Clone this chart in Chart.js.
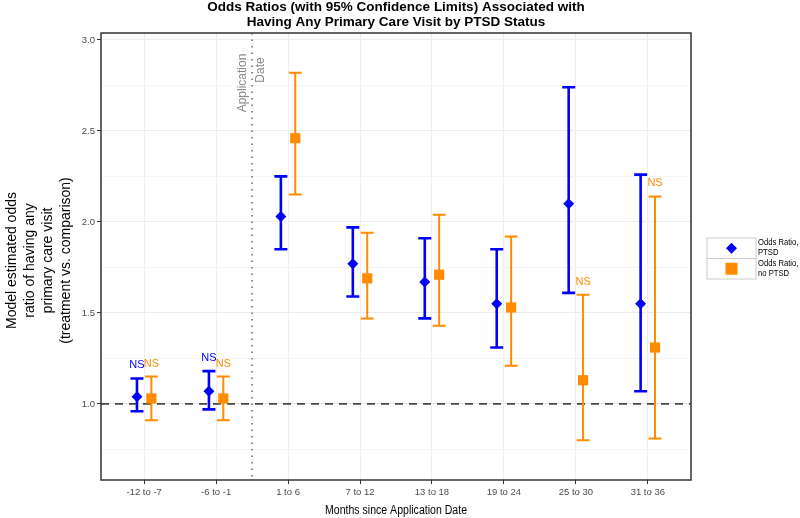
<!DOCTYPE html>
<html>
<head>
<meta charset="utf-8">
<script src="https://cdn.jsdelivr.net/npm/chart.js@4.4.0/dist/chart.umd.min.js"></script>
<style>
  html, body { margin: 0; padding: 0; background: #fff; }
  #wrap { width: 800px; height: 518px; }
</style>
</head>
<body>
<div id="wrap"><canvas id="chart" width="800" height="518"></canvas></div>
<script>
// data
const periods = ['-12 to -7', '-6 to -1', '1 to 6', '7 to 12', '13 to 18', '19 to 24', '25 to 30', '31 to 36'];
const ptsdOR     = [1.04, 1.07, 2.03, 1.77, 1.67, 1.55, 2.10, 1.55];
const ptsdLow    = [0.96, 0.97, 1.85, 1.59, 1.47, 1.31, 1.61, 1.07];
const ptsdHigh   = [1.14, 1.18, 2.25, 1.97, 1.91, 1.85, 2.74, 2.26];
const noPtsdOR   = [1.03, 1.03, 2.46, 1.69, 1.71, 1.53, 1.13, 1.31];
const noPtsdLow  = [0.91, 0.91, 2.15, 1.47, 1.43, 1.21, 0.80, 0.81];
const noPtsdHigh = [1.15, 1.15, 2.82, 1.94, 2.04, 1.92, 1.60, 2.14];
const ptsdNote   = ['NS', 'NS', '', '', '', '', '', ''];
const noPtsdNote = ['NS', 'NS', '', '', '', '', 'NS', 'NS'];
const yTickLabels = ['1.0', '1.5', '2.0', '2.5', '3.0'];
const refLine = 1.0;          // OR = 1
const applicationAt = 1.5;    // between "-6 to -1" and "1 to 6"

const BLUE = '#0000ff';
const ORANGE = '#ff8c00';
const SANS = "'Liberation Sans', Arial, sans-serif";
const DODGE = 0.1;

const series = [
  { label: 'Odds Ratio, PTSD', or: ptsdOR, lo: ptsdLow, hi: ptsdHigh, note: ptsdNote, color: BLUE, off: -DODGE, lw: 2.6 },
  { label: 'Odds Ratio, no PTSD', or: noPtsdOR, lo: noPtsdLow, hi: noPtsdHigh, note: noPtsdNote, color: ORANGE, off: DODGE, lw: 2 }
];

// condensed-looking text: no narrow font installed, so squeeze horizontally
function narrowText(ctx, text, x, y, sx) {
  ctx.save();
  ctx.translate(x, y);
  ctx.scale(sx, 1);
  ctx.fillText(text, 0, 0);
  ctx.restore();
}

const isHalf = v => Math.abs(v * 2 - Math.round(v * 2)) < 1e-6;

const extras = {
  id: 'extras',
  beforeDatasetsDraw(chart) {
    const { ctx, chartArea: a, scales: { x, y } } = chart;
    ctx.save();
    ctx.beginPath();
    ctx.rect(a.left, a.top, a.right - a.left, a.bottom - a.top);
    ctx.clip();
    // reference line at 1
    ctx.strokeStyle = '#444';
    ctx.lineWidth = 1.6;
    ctx.setLineDash([8, 6]);
    ctx.beginPath();
    ctx.moveTo(a.left, y.getPixelForValue(refLine));
    ctx.lineTo(a.right, y.getPixelForValue(refLine));
    ctx.stroke();
    // application date
    ctx.strokeStyle = '#888';
    ctx.lineWidth = 2;
    ctx.setLineDash([1.5, 5]);
    const ax = x.getPixelForValue(applicationAt);
    ctx.beginPath();
    ctx.moveTo(ax, a.top);
    ctx.lineTo(ax, a.bottom);
    ctx.stroke();
    ctx.setLineDash([]);
    // error bars
    series.forEach(s => {
      ctx.strokeStyle = s.color;
      ctx.lineWidth = s.lw;
      s.or.forEach((v, i) => {
        const px = x.getPixelForValue(i + s.off);
        const top = y.getPixelForValue(s.hi[i]);
        const bot = y.getPixelForValue(s.lo[i]);
        ctx.beginPath();
        ctx.moveTo(px, top); ctx.lineTo(px, bot);
        ctx.moveTo(px - 6.5, top); ctx.lineTo(px + 6.5, top);
        ctx.moveTo(px - 6.5, bot); ctx.lineTo(px + 6.5, bot);
        ctx.stroke();
      });
    });
    ctx.restore();
  },
  afterDraw(chart) {
    const { ctx, chartArea: a, scales: { x, y } } = chart;
    ctx.save();
    // panel border
    ctx.strokeStyle = '#333';
    ctx.lineWidth = 1.5;
    ctx.strokeRect(a.left, a.top, a.right - a.left, a.bottom - a.top);

    // NS notes
    ctx.font = '11px ' + SANS;
    ctx.textAlign = 'center';
    ctx.textBaseline = 'middle';
    series.forEach(s => {
      ctx.fillStyle = s.color;
      s.note.forEach((t, i) => {
        if (!t) return;
        ctx.fillText(t, x.getPixelForValue(i + s.off), y.getPixelForValue(s.hi[i]) - 13);
      });
    });

    // application date label
    const ax = x.getPixelForValue(applicationAt);
    ctx.fillStyle = '#888';
    ctx.font = '12px ' + SANS;
    ctx.save();
    ctx.translate(ax - 9, a.top + 50);
    ctx.rotate(-Math.PI / 2);
    ctx.fillText('Application', 0, 0);
    ctx.restore();
    ctx.save();
    ctx.translate(ax + 9, a.top + 37);
    ctx.rotate(-Math.PI / 2);
    ctx.fillText('Date', 0, 0);
    ctx.restore();

    // title
    const cx = (a.left + a.right) / 2;
    ctx.fillStyle = '#000';
    ctx.font = 'bold 13.5px ' + SANS;
    ctx.fillText('Odds Ratios (with 95% Confidence Limits) Associated with', cx, 7.5);
    ctx.fillText('Having Any Primary Care Visit by PTSD Status', cx, 22.5);

    // axis titles
    ctx.font = '12px ' + SANS;
    narrowText(ctx, 'Months since Application Date', cx, 511, 0.88);
    ctx.font = '14px ' + SANS;
    const yLines = ['Model estimated odds', 'ratio of having any', 'primary care visit', '(treatment vs. comparison)'];
    const cy = (a.top + a.bottom) / 2 + 4;
    yLines.forEach((t, k) => {
      ctx.save();
      ctx.translate(12 + k * 18, cy);
      ctx.rotate(-Math.PI / 2);
      ctx.fillText(t, 0, 0);
      ctx.restore();
    });

    // legend
    const lx = 707, lw = 49, rh = 20.5, ly = 238;
    ctx.strokeStyle = '#cccccc';
    ctx.lineWidth = 1;
    ctx.strokeRect(lx, ly, lw, rh);
    ctx.strokeRect(lx, ly + rh, lw, rh);
    const kx = lx + lw / 2;
    ctx.fillStyle = BLUE;
    ctx.beginPath();
    ctx.moveTo(kx, ly + rh / 2 - 5.5);
    ctx.lineTo(kx + 5.5, ly + rh / 2);
    ctx.lineTo(kx, ly + rh / 2 + 5.5);
    ctx.lineTo(kx - 5.5, ly + rh / 2);
    ctx.closePath();
    ctx.fill();
    ctx.fillStyle = ORANGE;
    ctx.fillRect(kx - 6, ly + rh * 1.5 - 6, 12, 12);
    ctx.fillStyle = '#000';
    ctx.font = '9px ' + SANS;
    ctx.textAlign = 'left';
    narrowText(ctx, 'Odds Ratio,', lx + lw + 2, ly + 5, 0.85);
    narrowText(ctx, 'PTSD', lx + lw + 2, ly + 15, 0.85);
    narrowText(ctx, 'Odds Ratio,', lx + lw + 2, ly + rh + 5, 0.85);
    narrowText(ctx, 'no PTSD', lx + lw + 2, ly + rh + 15, 0.85);
    ctx.restore();
  }
};

new Chart(document.getElementById('chart'), {
  type: 'scatter',
  data: {
    datasets: series.map(s => ({
      label: s.label,
      data: s.or.map((v, i) => ({ x: i + s.off, y: v })),
      backgroundColor: s.color,
      borderColor: s.color,
      borderWidth: 0,
      pointStyle: s.color === BLUE ? 'rectRot' : 'rect',
      pointRadius: s.color === BLUE ? 5.5 : 7.2,
      pointHoverRadius: s.color === BLUE ? 5.5 : 7.2
    }))
  },
  options: {
    responsive: false,
    animation: false,
    devicePixelRatio: 1,
    layout: { padding: { top: 33, right: 109, bottom: 0, left: 0 } },
    plugins: { legend: { display: false }, tooltip: { enabled: false } },
    scales: {
      x: {
        type: 'linear',
        min: -0.6,
        max: 7.6,
        afterFit: s => { s.height = 38; },
        afterBuildTicks: s => { s.ticks = periods.map((p, i) => ({ value: i })); },
        ticks: {
          callback: v => periods[v] ?? '',
          color: '#4d4d4d',
          font: { family: SANS, size: 9.5 },
          padding: 3,
          maxRotation: 0,
          autoSkip: false
        },
        grid: { color: '#eeeeee', tickColor: '#333', tickLength: 4, lineWidth: 1 },
        border: { display: false }
      },
      y: {
        min: 0.582,
        max: 3.038,
        afterFit: s => { s.width = 101; },
        afterBuildTicks: s => {
          const t = [];
          for (let k = 3; k <= 12; k++) t.push({ value: k * 0.25 });
          s.ticks = t;
        },
        ticks: {
          callback: v => {
            const i = Math.round((v - 1) * 2);
            return isHalf(v) && i >= 0 ? yTickLabels[i] : '';
          },
          color: '#4d4d4d',
          font: { family: SANS, size: 9.5 },
          padding: 2
        },
        grid: {
          color: c => (isHalf(c.tick.value) ? '#ececec' : '#f5f5f5'),
          tickColor: c => (isHalf(c.tick.value) ? '#333' : 'rgba(0,0,0,0)'),
          tickLength: 4
        },
        border: { display: false }
      }
    }
  },
  plugins: [extras]
});
</script>
</body>
</html>
